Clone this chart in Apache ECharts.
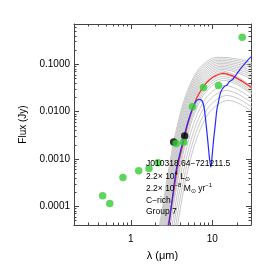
<!DOCTYPE html>
<html><head><meta charset="utf-8">
<script src="https://cdn.jsdelivr.net/npm/echarts@6/dist/echarts.min.js"></script>
<style>html,body{margin:0;padding:0;background:#fff}#c{width:273px;height:273px}</style>
</head><body><div id="c"></div>
<script>
// Photometry (wavelength in micron, flux in Jy)
const greenPoints = [[0.45,1.65e-4],[0.55,1.14e-4],[0.80,4.04e-4],[1.25,5.6e-4],[1.67,6.25e-4],[2.15,8.2e-4],[3.6,2.09e-3],[4.46,2.23e-3],[5.72,0.0125],[7.82,0.0319],[11.95,0.0352],[23.4,0.366]];
const blackPoints = [[3.36,2.25e-3],[4.59,3.01e-3]];
// Best-fit model (red)
const redModel = [[2.6,1.4e-5],[2.88,3.96e-5],[3.13,9.5e-5],[3.41,2.40e-4],[3.68,5.75e-4],[4.04,1.19e-3],[4.44,2.25e-3],[4.89,4.67e-3],[5.36,7.97e-3],[5.89,0.01265],[6.54,0.0201],[7.69,0.0322],[8.68,0.0417],[10.2,0.0524],[11.5,0.0586],[13.5,0.0637],[15.3,0.0615],[18.0,0.0557],[20.3,0.0494],[23.9,0.0423],[30.2,0.0322]];
// Spectrum (blue)
const blueModel = [[2.6,1.3e-5],[2.93,3.96e-5],[3.22,1.34e-4],[3.61,5.75e-4],[4.16,1.68e-3],[4.79,4.45e-3],[5.36,8.38e-3],[5.84,0.01265],[6.35,0.0165],[6.99,0.0179],[7.54,0.0165],[7.98,0.01175],[8.44,5.14e-3],[8.93,1.95e-3],[9.31,9.4e-4],[9.64,6.67e-4],[10.0,1.19e-3],[10.4,2.48e-3],[10.9,5.14e-3],[11.4,0.01067],[11.95,0.01596],[12.5,0.0232],[13.2,0.0289],[14.1,0.0335],[15.2,0.0360],[16.3,0.0427],[17.5,0.0459],[19.2,0.0557],[22.1,0.0783],[25.5,0.105],[29.3,0.137],[30.5,0.142]];
// Grid of models (grey)
const gray1 = [[2.19,3.05e-5],[2.43,8.62e-5],[2.88,5.23e-4],[3.41,2.59e-3],[4.13,0.01017],[4.97,0.02755],[6.49,0.0701],[8.61,0.1141],[11.4,0.1387],[15.2,0.137],[20.2,0.128],[25.5,0.118],[33.8,0.102]];
const grayH1 = [[2.23,2.84e-5],[2.47,8.02e-5],[2.92,4.86e-4],[3.46,2.41e-3],[4.19,9.46e-3],[5.04,0.0256],[6.58,0.0652],[8.73,0.1061],[11.6,0.129],[15.4,0.127],[20.5,0.118],[25.9,0.108],[34.2,0.093]];
const gray2 = [[2.26,2.63e-5],[2.50,7.45e-5],[2.96,4.52e-4],[3.51,2.24e-3],[4.24,8.79e-3],[5.11,0.0238],[6.67,0.0606],[8.85,0.0986],[11.7,0.1199],[15.6,0.117],[20.7,0.108],[26.2,0.098],[34.7,0.083]];
const grayH2 = [[2.29,2.45e-5],[2.53,6.93e-5],[3.00,4.20e-4],[3.56,2.08e-3],[4.30,8.17e-3],[5.18,0.0221],[6.77,0.0564],[8.98,0.0917],[11.9,0.1115],[15.8,0.108],[21.0,0.099],[26.6,0.089],[35.2,0.075]];
const gray3 = [[2.32,2.28e-5],[2.57,6.44e-5],[3.05,3.90e-4],[3.61,1.94e-3],[4.37,7.60e-3],[5.26,0.0206],[6.87,0.0524],[9.11,0.0853],[12.1,0.1036],[16.1,0.100],[21.3,0.090],[27.0,0.080],[35.7,0.066]];
const grayH3 = [[2.36,2.12e-5],[2.61,5.99e-5],[3.09,3.63e-4],[3.66,1.80e-3],[4.43,7.06e-3],[5.34,0.0191],[6.97,0.0487],[9.24,0.0792],[12.2,0.0963],[16.3,0.092],[21.7,0.082],[27.4,0.072],[36.2,0.058]];
const gray4 = [[2.39,1.97e-5],[2.65,5.57e-5],[3.13,3.37e-4],[3.71,1.67e-3],[4.49,6.57e-3],[5.41,0.0178],[7.07,0.0453],[9.37,0.0737],[12.4,0.0896],[16.5,0.085],[22.0,0.074],[27.8,0.064],[36.8,0.051]];
const grayH4 = [[2.42,1.83e-5],[2.68,5.18e-5],[3.18,3.14e-4],[3.77,1.56e-3],[4.56,6.10e-3],[5.49,0.0165],[7.17,0.0421],[9.51,0.0685],[12.6,0.0833],[16.8,0.078],[22.3,0.067],[28.1,0.057],[37.3,0.045]];
const gray5 = [[2.46,1.70e-5],[2.72,4.81e-5],[3.22,2.92e-4],[3.82,1.45e-3],[4.62,5.67e-3],[5.57,0.0154],[7.27,0.0391],[9.64,0.0637],[12.8,0.0774],[17.0,0.072],[22.6,0.061],[28.5,0.051],[37.8,0.040]];
const grayH5 = [[2.49,1.58e-5],[2.76,4.47e-5],[3.27,2.71e-4],[3.87,1.34e-3],[4.68,5.27e-3],[5.64,0.0143],[7.37,0.0364],[9.77,0.0592],[12.9,0.0719],[17.2,0.0629],[22.9,0.0478],[28.9,0.0364],[38.3,0.0254]];
const gray6 = [[2.53,1.47e-5],[2.80,4.16e-5],[3.31,2.52e-4],[3.93,1.25e-3],[4.75,4.90e-3],[5.73,0.0133],[7.47,0.0338],[9.91,0.0550],[13.1,0.0669],[17.5,0.0585],[23.2,0.0444],[29.4,0.0338],[38.9,0.0236]];
const grayH6 = [[2.56,1.33e-5],[2.84,3.77e-5],[3.36,2.29e-4],[3.98,1.13e-3],[4.82,4.45e-3],[5.81,0.0121],[7.58,0.0307],[10.1,0.0499],[13.3,0.0607],[17.7,0.0531],[23.6,0.0403],[29.8,0.0307],[39.4,0.0214]];
const gray7 = [[2.6,1.21e-5],[2.88,3.42e-5],[3.41,2.07e-4],[4.04,1.03e-3],[4.89,4.03e-3],[5.89,0.0109],[7.69,0.0278],[10.2,0.0453],[13.5,0.0550],[18.0,0.0481],[23.9,0.0365],[30.2,0.0278],[40,0.0194]];
const grayH7 = [[2.64,1.10e-5],[2.92,3.10e-5],[3.46,1.88e-4],[4.10,9.33e-4],[4.96,3.66e-3],[5.97,9.92e-3],[7.80,0.0252],[10.3,0.0411],[13.7,0.0499],[18.3,0.0437],[24.2,0.0332],[30.6,0.0252],[40.6,0.0176]];
const gray8 = [[2.68,9.95e-6],[2.96,2.82e-5],[3.51,1.71e-4],[4.16,8.46e-4],[5.03,3.32e-3],[6.06,8.99e-3],[7.91,0.0229],[10.5,0.0373],[13.9,0.0453],[18.5,0.0396],[24.6,0.0301],[31.1,0.0229],[41.2,0.0160]];
const gray9 = [[2.75,7.81e-6],[3.05,2.21e-5],[3.61,1.34e-4],[4.27,6.64e-4],[5.17,2.61e-3],[6.23,7.06e-3],[8.14,0.0180],[10.8,0.0292],[14.3,0.0355],[19.0,0.0311],[25.3,0.0236],[32.0,0.0180],[42.3,0.0126]];
const gray10 = [[2.83,6.12e-6],[3.14,1.73e-5],[3.71,1.05e-4],[4.40,5.20e-4],[5.33,2.04e-3],[6.41,5.53e-3],[8.37,0.0141],[11.1,0.0229],[14.7,0.0278],[19.6,0.0243],[26.0,0.0185],[32.9,0.0141],[43.6,9.83e-3]];
const gray11 = [[2.91,4.80e-6],[3.23,1.36e-5],[3.82,8.23e-5],[4.52,4.08e-4],[5.48,1.60e-3],[6.60,4.34e-3],[8.61,0.0110],[11.4,0.0180],[15.1,0.0218],[20.2,0.0191],[26.8,0.0145],[33.8,0.0110],[44.8,7.72e-3]];
const gray12 = [[3.00,3.77e-6],[3.32,1.07e-5],[3.93,6.46e-5],[4.65,3.20e-4],[5.63,1.26e-3],[6.79,3.40e-3],[8.86,8.66e-3],[11.8,0.0141],[15.6,0.0171],[20.7,0.0150],[27.5,0.0114],[34.8,8.66e-3],[46.1,6.05e-3]];
const grayModels = [gray1,grayH1,gray2,grayH2,gray3,grayH3,gray4,grayH4,gray5,grayH5,gray6,grayH6,gray7,grayH7,gray8,gray9,gray10,gray11,gray12];
// Minor tick positions
const xMinorTicks = [0.3,0.4,0.5,0.6,0.7,0.8,0.9,2,3,4,5,6,7,8,9,20];
const yMinorTicks = [5e-5,6e-5,7e-5,8e-5,9e-5,2e-4,3e-4,4e-4,5e-4,6e-4,7e-4,8e-4,9e-4,2e-3,3e-3,4e-3,5e-3,6e-3,7e-3,8e-3,9e-3,0.02,0.03,0.04,0.05,0.06,0.07,0.08,0.09,0.2,0.3,0.4,0.5,0.6];
const annotationLines = ['J010318.64\u2212721211.5','2.2\u00d7 10{sup|4} L{sub|\u2299}','2.2\u00d7 10{sup|\u22128} M{sub|\u2299} yr{sup|\u22121}','C\u2212rich','Group 7'];

const FONT = '"Liberation Sans", Arial, Helvetica, sans-serif';
const AX = '#444';
const chart = echarts.init(document.getElementById('c'), null, {renderer:'canvas'});

function baseX(pos, showLabel){
  return {type:'log', logBase:10, min:0.2, max:30, position:pos, gridIndex:0,
    axisLine:{show:true, lineStyle:{color:AX, width:1}},
    axisTick:{show:true, inside:true, length:5, lineStyle:{color:AX}},
    minorTick:{show:false}, splitLine:{show:false},
    axisLabel:{show:showLabel, fontSize:10, fontFamily:FONT, color:'#000', margin:9,
      showMinLabel:false, showMaxLabel:false,
      formatter:v=> v>=1 ? String(Math.round(v)) : String(v)}};
}
function baseY(pos, showLabel){
  return {type:'log', logBase:10, min:4e-5, max:0.7, position:pos, gridIndex:0,
    axisLine:{show:true, lineStyle:{color:AX, width:1}},
    axisTick:{show:true, inside:true, length:5, lineStyle:{color:AX}},
    minorTick:{show:false}, splitLine:{show:false},
    axisLabel:{show:showLabel, fontSize:10, fontFamily:FONT, color:'#000', margin:4,
      showMinLabel:false, showMaxLabel:false,
      formatter:v=> v.toFixed(4)}};
}
const xa = baseX('bottom', true);
xa.name = '\u03bb (\u03bcm)'; xa.nameLocation='middle'; xa.nameGap=25;
xa.nameTextStyle = {fontSize:11, fontFamily:FONT, color:'#000'};
const ya = baseY('left', true);
ya.name = 'Flux (Jy)'; ya.nameLocation='middle'; ya.nameGap=40; ya.nameRotate=90;
ya.nameTextStyle = {fontSize:10, fontFamily:FONT, color:'#000'};

const series = [];
grayModels.forEach(g=>{
  series.push({type:'line', data:g, smooth:0.3, symbol:'none', silent:true, z:1,
    lineStyle:{color:'#c8c8c8', width:1}, clip:true});
});
series.push({type:'line', data:redModel, smooth:0.3, symbol:'none', z:3, clip:true,
  lineStyle:{color:'#ff2a2a', width:1.3}});
series.push({type:'line', data:blueModel, smooth:0.25, symbol:'none', z:4, clip:true,
  lineStyle:{color:'#2a2aff', width:1.2}});
series.push({type:'scatter', data:blackPoints, symbol:'circle', symbolSize:7.5, z:5,
  itemStyle:{color:'#000'}});
series.push({type:'scatter', data:greenPoints, symbol:'circle', symbolSize:7.5, z:6,
  itemStyle:{color:'#35cc35'}});
series.push({type:'custom', silent:true, z:7, clip:false,
  data: xMinorTicks.map(v=>[v,1e-3,0]).concat(yMinorTicks.map(v=>[1,v,1])),
  renderItem:function(params, api){
    const cs = params.coordSys; const len = 2.5;
    const p = api.coord([api.value(0), api.value(1)]);
    const st = {stroke:AX, lineWidth:1};
    if (api.value(2) === 0){
      const x = Math.round(p[0]) + 0.5;
      const yb = cs.y + cs.height, yt = cs.y;
      return {type:'group', children:[
        {type:'line', shape:{x1:x,y1:yb,x2:x,y2:yb-len}, style:st},
        {type:'line', shape:{x1:x,y1:yt,x2:x,y2:yt+len}, style:st}]};
    } else {
      const y = Math.round(p[1]) + 0.5;
      const xl = cs.x, xr = cs.x + cs.width;
      return {type:'group', children:[
        {type:'line', shape:{x1:xl,y1:y,x2:xl+len,y2:y}, style:st},
        {type:'line', shape:{x1:xr,y1:y,x2:xr-len,y2:y}, style:st}]};
    }
  }});

const rich = {sup:{fontSize:6, fontFamily:FONT, verticalAlign:'top', lineHeight:12, fill:'#000'},
              sub:{fontSize:6, fontFamily:FONT, verticalAlign:'bottom', lineHeight:12, fill:'#000'}};
const textTops = [158, 170.5, 182.5, 194.5, 206];
const graphic = annotationLines.map((t,i)=>({type:'text', left:146, top:textTops[i], z:20,
  style:{text:t, fontSize:8.5, fontFamily:FONT, fill:'#000', lineHeight:12, rich:rich}}));

chart.setOption({
  animation:false,
  backgroundColor:'#fff',
  grid:{left:74, top:24, right:22, bottom:48, containLabel:false},
  xAxis:[xa, baseX('top', false)],
  yAxis:[ya, baseY('right', false)],
  graphic: graphic,
  series: series
});
</script></body></html>
